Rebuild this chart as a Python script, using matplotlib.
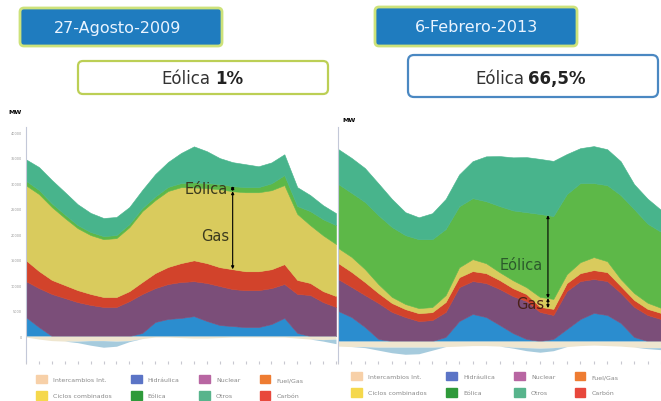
import matplotlib.pyplot as plt
import numpy as np
from matplotlib.patches import FancyBboxPatch, Patch
from matplotlib.transforms import IdentityTransform

# horas del dia
horas = np.arange(25)

# 27-Agosto-2009 (MW)
hid_09 = [3700, 1750, 0, 0, 0, 0, 0, 0, 0, 600, 2750, 3350, 3550, 3900, 2950, 2150, 1950, 1750, 1750, 2350, 3550, 600, 0, 0, 0]
nuc_09 = [7050, 7650, 8250, 7450, 6650, 6100, 5700, 5700, 6850, 7650, 6650, 6850, 7050, 6850, 7450, 7650, 7250, 7250, 7250, 7050, 6650, 7650, 8050, 6650, 5700]
car_09 = [4100, 3350, 2750, 2550, 2350, 2150, 1950, 1950, 1950, 2350, 2950, 3350, 3700, 4100, 3900, 3700, 3900, 3700, 3700, 3700, 3900, 2750, 2350, 2150, 2150]
cc_09 = [14700, 15100, 14300, 13150, 12150, 11550, 11350, 11550, 12550, 13900, 14300, 14900, 14900, 14300, 14700, 15300, 15300, 15500, 15500, 15500, 15500, 12950, 11350, 10950, 10200]
eol_09 = [900, 800, 700, 700, 600, 600, 600, 600, 600, 600, 700, 800, 800, 1000, 1000, 1000, 1000, 1000, 1000, 1350, 1950, 1550, 2750, 3150, 3700]
otr_09 = [4200, 4500, 4600, 4400, 4100, 3750, 3550, 3550, 3350, 3550, 4400, 4900, 5900, 7050, 6250, 5100, 4700, 4500, 4100, 4100, 4100, 3700, 3150, 2750, 2350]
int_09 = [-200, -600, -900, -1000, -1000, -900, -900, -1000, -900, -500, -200, -200, -300, -400, -400, -300, -200, -200, -200, -200, -200, -400, -600, -700, -600]
bom_09 = [0, 0, 0, 0, -300, -900, -1300, -1000, -200, 0, 0, 0, 0, 0, 0, 0, 0, 0, 0, 0, 0, 0, 0, -300, -900]

# 6-Febrero-2013 (MW)
hid_13 = [5900, 4700, 2750, 400, 0, 0, 0, 0, 800, 3900, 5300, 4700, 3150, 1550, 400, 0, 400, 2350, 4300, 5500, 5100, 3550, 800, 0, 0]
nuc_13 = [6250, 5900, 6250, 7050, 5700, 4700, 3900, 4100, 4900, 6650, 6450, 6650, 7050, 7250, 7450, 5700, 4700, 7450, 7450, 6650, 6650, 5900, 5900, 5100, 4300]
car_13 = [3150, 2950, 2550, 1950, 1750, 1550, 1550, 1550, 1950, 1950, 1950, 1950, 1750, 1550, 1350, 1000, 1200, 1550, 1550, 1750, 1750, 1350, 1350, 1200, 1200]
cc_13 = [2950, 2950, 2550, 1750, 1200, 1000, 1000, 1000, 1350, 1950, 2350, 1950, 1550, 1550, 1350, 1950, 1950, 1750, 2150, 2550, 2150, 1350, 1350, 1200, 1000]
eol_13 = [12550, 12550, 13150, 13500, 13700, 13500, 13500, 13300, 12950, 11950, 11950, 12150, 12950, 13700, 14700, 16250, 16250, 15700, 15500, 14500, 14900, 16450, 16450, 15500, 14900]
otr_13 = [6850, 6850, 6650, 6250, 5500, 4500, 4300, 5100, 5900, 6250, 7250, 8800, 9800, 10400, 10800, 10800, 10800, 7850, 6850, 7250, 7050, 6650, 4900, 4900, 4300]
int_13 = [-1000, -1100, -1100, -1200, -1200, -1200, -1200, -1200, -1100, -1000, -900, -900, -1000, -1200, -1300, -1400, -1300, -1100, -900, -800, -900, -1000, -1200, -1300, -1300]
bom_13 = [0, 0, -200, -600, -1100, -1400, -1300, -600, 0, 0, 0, 0, 0, -200, -600, -800, -600, 0, 0, 0, 0, 0, 0, -200, -400]

leyenda = ["Intercambios Int.", "Ciclos combinados", "Hidráulica", "Eólica",
           "Nuclear", "Otros", "Fuel/Gas", "Carbón"]
col_leyenda = ["#f7d0a8", "#f5d84c", "#5b74c6", "#2e9a3a",
               "#b866a2", "#58b48c", "#ee7c32", "#e8483c"]

colores = ["#2b8dcf", "#7b4e79", "#d2432b", "#d9cb5d", "#5db848", "#48b48c"]
c_int = "#efe6cf"
c_bom = "#a6cbdd"

W, H = 661, 402
fig = plt.figure(figsize=(6.61, 4.02), dpi=100)


def ejes(x0, y0, x1, y1):
    return fig.add_axes([x0 / W, 1 - y1 / H, (x1 - x0) / W, (y1 - y0) / H])


def caja(x0, y0, x1, y1, fc, ec, lw, r):
    p = FancyBboxPatch((x0, H - y1), x1 - x0, y1 - y0,
                       boxstyle="round,pad=0,rounding_size=%d" % r,
                       fc=fc, ec=ec, lw=lw, transform=IdentityTransform())
    fig.patches.append(p)


def grafico(ax, capas, neg1, neg2, ylim):
    polys = ax.stackplot(horas, capas, colors=colores)
    for p, c in zip(polys, colores):
        p.set_edgecolor(c)
        p.set_linewidth(0.4)
    n1 = np.array(neg1)
    n2 = n1 + np.array(neg2)
    ax.fill_between(horas, 0, n1, color=c_int, lw=0)
    ax.fill_between(horas, n1, n2, color=c_bom, lw=0)
    ax.set_xlim(0, 24)
    ax.set_ylim(*ylim)
    ax.set_yticks(np.arange(0, 40001, 5000))
    ax.set_xticks(horas)
    ax.tick_params(axis="x", length=2, color="#c8c8d0", labelbottom=False)
    for s in ["top", "right", "bottom"]:
        ax.spines[s].set_visible(False)
    ax.spines["left"].set_color("#c3c8d8")
    ax.spines["left"].set_linewidth(0.8)
    ax.patch.set_alpha(0)


ax1 = ejes(26, 128, 336, 362)
grafico(ax1, [hid_09, nuc_09, car_09, cc_09, eol_09, otr_09], int_09, bom_09, (-4900, 41000))
ax1.set_yticklabels([str(v) for v in range(0, 40001, 5000)], fontsize=2.5, color="#999999")
ax1.tick_params(axis="y", length=0, pad=3)

ax2 = ejes(338, 128, 661, 362)
grafico(ax2, [hid_13, nuc_13, car_13, cc_13, eol_13, otr_13], int_13, bom_13, (-3920, 41950))
ax2.tick_params(axis="y", length=0, labelleft=False)

# anotaciones 2009
cum = np.cumsum([hid_09, nuc_09, car_09, cc_09, eol_09], axis=0)
h = 16
flecha = dict(arrowstyle="<|-|>", color="black", lw=0.8, shrinkA=0, shrinkB=0, mutation_scale=4)
ax1.annotate("", xy=(h, cum[3][h]), xytext=(h, cum[2][h]), arrowprops=flecha)
ax1.annotate("", xy=(h, cum[4][h]), xytext=(h, cum[3][h]), arrowprops=flecha)
ax1.text(h - 0.35, (cum[3][h] + cum[4][h]) / 2, "Eólica", ha="right", va="center",
         fontsize=10.5, color="#3a3a1e")
ax1.text(h - 0.25, (cum[2][h] + cum[3][h]) / 2 - 1000, "Gas", ha="right", va="center",
         fontsize=10.5, color="#3a3a1e")

# anotaciones 2013
cum = np.cumsum([hid_13, nuc_13, car_13, cc_13, eol_13], axis=0)
h = 15.6
g0, g1, e1 = [np.interp(h, horas, cum[i]) for i in (2, 3, 4)]
ax2.annotate("", xy=(h, e1), xytext=(h, g1), arrowprops=flecha)
ax2.annotate("", xy=(h, g1), xytext=(h, g0), arrowprops=flecha)
ax2.text(h - 0.35, g1 + (e1 - g1) * 0.4, "Eólica", ha="right", va="center",
         fontsize=10.5, color="#2c5a2c")
ax2.text(h - 0.25, (g0 + g1) / 2, "Gas", ha="right", va="center",
         fontsize=10.5, color="#4a2018")

fig.text(8 / W, 1 - 113 / H, "MW", fontsize=4.5, fontweight="bold", va="center")
fig.text(342 / W, 1 - 120 / H, "MW", fontsize=4.5, fontweight="bold", va="center")

# cabeceras
caja(20, 9, 222, 47, "#1f7cbf", "#cde27a", 2, 4)
caja(375, 8, 577, 47, "#1f7cbf", "#cde27a", 2, 4)
fig.text(118 / W, 1 - 28 / H, "27-Agosto-2009", ha="center", va="center", fontsize=11.5, color="#eaf4ff")
fig.text(476 / W, 1 - 28 / H, "6-Febrero-2013", ha="center", va="center", fontsize=11.5, color="#eaf4ff")

caja(78, 62, 328, 95, "white", "#bccf55", 1.6, 5)
caja(408, 56, 658, 98, "white", "#4a88c2", 1.6, 6)
fig.text(210 / W, 1 - 79 / H, "Eólica", ha="right", va="center", fontsize=12, color="#333333")
fig.text(215 / W, 1 - 79 / H, "1%", ha="left", va="center", fontsize=12, fontweight="bold", color="#222222")
fig.text(524 / W, 1 - 79 / H, "Eólica", ha="right", va="center", fontsize=12, color="#333333")
fig.text(528 / W, 1 - 79 / H, "66,5%", ha="left", va="center", fontsize=12, fontweight="bold", color="#222222")

# leyendas
manejadores = [Patch(color=c) for c in col_leyenda]
for x, y in ((36, 376), (351, 373)):
    fig.legend(manejadores, leyenda, ncol=4, loc="upper left", bbox_to_anchor=(x / W, 1 - y / H),
               frameon=False, fontsize=4.5, labelcolor="#888888", handlelength=1.7,
               handleheight=1.7, handletextpad=1.0, columnspacing=3.1, labelspacing=1.25,
               borderpad=0, borderaxespad=0)

fig.savefig("out.png", dpi=100)
